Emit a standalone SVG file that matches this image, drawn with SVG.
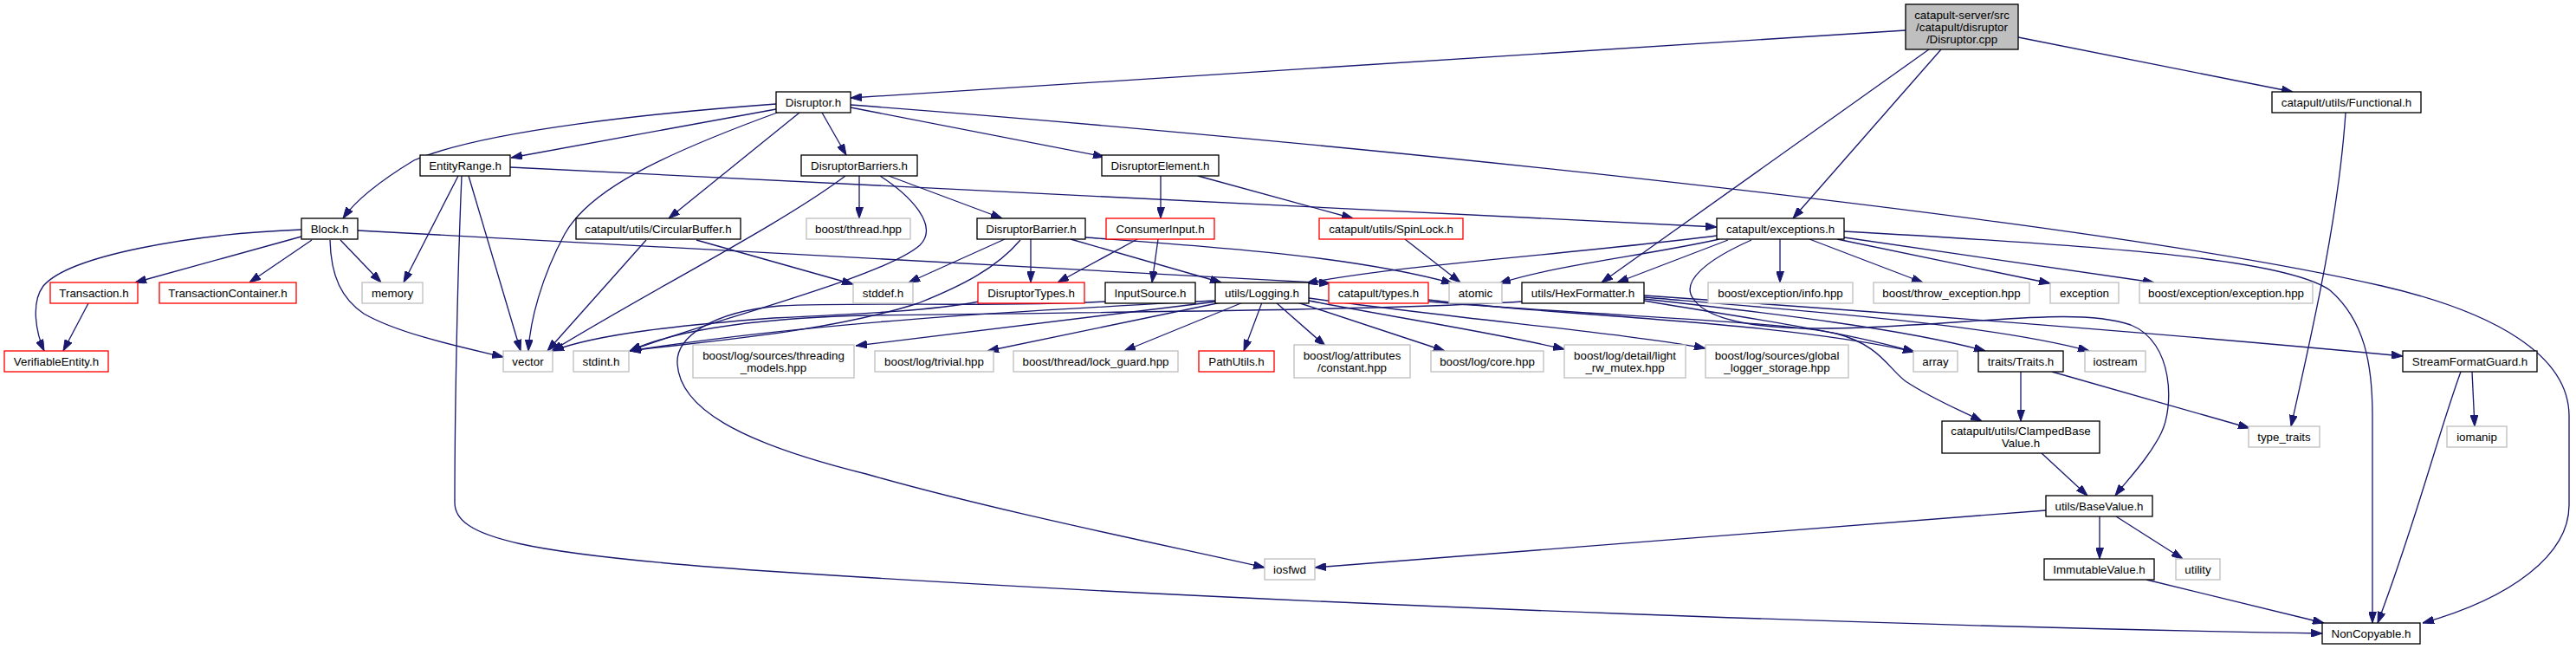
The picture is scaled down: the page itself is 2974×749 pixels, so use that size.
<svg xmlns="http://www.w3.org/2000/svg" width="2974" height="749" viewBox="0 0 2974 749">
<style>
.n rect{fill:#fff;stroke:#000;stroke-width:1.33}
.g rect{stroke:#bfbfbf}
.r rect{stroke:#ff0000}
.root rect{fill:#bfbfbf}
text{font-family:"Liberation Sans",Arial,Helvetica,sans-serif;font-size:13.33px;text-anchor:middle;fill:#000}
#edges path{fill:none;stroke:#191970;stroke-width:1.33;marker-end:url(#a)}
</style>
<defs>
<marker id="a" viewBox="0 0 13 9" refX="13" refY="4.5" markerWidth="13" markerHeight="9" markerUnits="userSpaceOnUse" orient="auto"><path d="M0,0 L13,4.5 L0,9 z" fill="#191970" stroke="#191970" stroke-width="1"/></marker>
</defs>
<rect width="2974" height="749" fill="#fff"/>
<g id="edges">
<path d="M2200,35 L982,113"/>
<path d="M2330,43 L2647,106"/>
<path d="M2241,57 L2070,252"/>
<path d="M2227,57 L1849,326"/>
<path d="M896,120 C760,130 560,150 478,185 C440,208 410,232 396,252"/>
<path d="M896,126 L590,182"/>
<path d="M900,129 C760,180 680,220 652,270 C625,320 612,370 610,405"/>
<path d="M923,130 L772,252"/>
<path d="M949,130 L977,179"/>
<path d="M982,124 L1275,181"/>
<path d="M982,121 C1500,160 2400,250 2750,330 C2880,360 2966,410 2966,480 L2966,583 C2966,640 2900,690 2797,719"/>
<path d="M529,203 L466,326"/>
<path d="M533,203 C528,320 525,480 525,580 C525,620 600,640 900,660 C1500,700 2300,725 2681,731"/>
<path d="M541,203 L601,405"/>
<path d="M589,193 L1982,262"/>
<path d="M348,265 C220,270 80,295 50,330 C35,350 42,385 51,405"/>
<path d="M348,273 L156,326"/>
<path d="M360,277 L288,326"/>
<path d="M393,277 L440,326"/>
<path d="M381,277 C382,320 395,345 420,362 C460,385 530,400 581,412"/>
<path d="M413,266 L1536,327"/>
<path d="M102,350 L73,405"/>
<path d="M746,277 L632,405"/>
<path d="M804,277 L985,328"/>
<path d="M992,203 L992,252"/>
<path d="M1026,203 L1157,252"/>
<path d="M976,203 C900,260 760,330 637,405"/>
<path d="M1016,203 C1050,225 1085,260 1062,283 C1020,320 820,370 727,405"/>
<path d="M1340,203 L1340,252"/>
<path d="M1383,203 L1562,252"/>
<path d="M1160,276 L1049,326"/>
<path d="M1190,276 L1190,326"/>
<path d="M1178,277 C1150,310 1110,330 1060,350 C950,385 800,395 727,405"/>
<path d="M1236,276 L1410,326"/>
<path d="M1253,274 C1400,285 1560,295 1677,327"/>
<path d="M1313,276 L1221,326"/>
<path d="M1337,276 L1330,326"/>
<path d="M1622,276 L1686,326"/>
<path d="M1982,272 C1800,295 1620,305 1508,327"/>
<path d="M1985,276 C1900,295 1800,305 1731,327"/>
<path d="M1995,277 L1867,326"/>
<path d="M2055,276 L2055,326"/>
<path d="M2089,276 L2220,326"/>
<path d="M2121,276 L2367,327"/>
<path d="M2129,274 L2487,326"/>
<path d="M2129,267 C2450,285 2640,300 2690,335 C2730,370 2739,420 2739,480 L2739,719"/>
<path d="M2022,277 C1970,300 1940,325 1955,345 C1975,375 2050,382 2150,378 C2300,372 2400,355 2460,375 C2510,395 2510,470 2495,500 C2480,530 2455,555 2442,572"/>
<path d="M1405,348 L988,399"/>
<path d="M1410,349 L1140,405"/>
<path d="M1435,349 L1298,405"/>
<path d="M1457,349 L1436,405"/>
<path d="M1473,349 L1530,399"/>
<path d="M1498,349 L1668,405"/>
<path d="M1511,347 C1620,368 1730,385 1806,403"/>
<path d="M1511,344 C1700,370 1880,385 1969,402"/>
<path d="M1403,347 C1200,358 950,370 727,405"/>
<path d="M1757,348 C1600,358 1300,360 1000,364 C850,368 770,385 727,405"/>
<path d="M1898,347 C2000,365 2120,380 2210,406"/>
<path d="M1898,345 C2050,362 2200,380 2292,405"/>
<path d="M1898,343 C2100,360 2300,375 2412,405"/>
<path d="M1898,341 C2200,362 2500,385 2774,411"/>
<path d="M1649,346 C1800,365 2050,370 2210,406"/>
<path d="M1649,348 C1850,365 2050,370 2120,385 C2170,398 2180,425 2200,440 C2230,460 2260,472 2288,486"/>
<path d="M1277,348 C1150,355 1000,348 900,353 C820,360 780,390 782,420 C785,470 850,510 1000,547 C1150,590 1350,630 1460,655"/>
<path d="M1130,348 C1080,358 1000,362 893,367 C790,375 690,385 638,405"/>
<path d="M2362,589 L1518,655"/>
<path d="M2424,596 L2424,645"/>
<path d="M2443,596 L2520,645"/>
<path d="M2357,523 L2410,572"/>
<path d="M2333,429 L2333,486"/>
<path d="M2369,429 L2597,494"/>
<path d="M2708,130 C2700,250 2670,380 2645,492"/>
<path d="M2854,429 L2857,492"/>
<path d="M2841,429 C2815,500 2790,600 2745,719"/>
<path d="M2478,669 L2683,719"/>
</g>
<g id="n_root" class="n root"><rect x="2200" y="5" width="130" height="52"/><text x="2265" y="22">catapult-server/src</text><text x="2265" y="36">/catapult/disruptor</text><text x="2265" y="50">/Disruptor.cpp</text></g>
<g id="n_disruptor" class="n"><rect x="896" y="106" width="86" height="24"/><text x="939" y="122.5">Disruptor.h</text></g>
<g id="n_functional" class="n"><rect x="2623" y="106" width="172" height="24"/><text x="2709" y="122.5">catapult/utils/Functional.h</text></g>
<g id="n_entityrange" class="n"><rect x="485" y="179" width="104" height="24"/><text x="537" y="195.5">EntityRange.h</text></g>
<g id="n_barriers" class="n"><rect x="925" y="179" width="134" height="24"/><text x="992" y="195.5">DisruptorBarriers.h</text></g>
<g id="n_element" class="n"><rect x="1272" y="179" width="135" height="24"/><text x="1339.5" y="195.5">DisruptorElement.h</text></g>
<g id="n_block" class="n"><rect x="348" y="252" width="65" height="24"/><text x="380.5" y="268.5">Block.h</text></g>
<g id="n_circular" class="n"><rect x="665" y="252" width="190" height="24"/><text x="760" y="268.5">catapult/utils/CircularBuffer.h</text></g>
<g id="n_thread" class="n g"><rect x="931" y="252" width="120" height="24"/><text x="991" y="268.5">boost/thread.hpp</text></g>
<g id="n_barrier" class="n"><rect x="1128" y="252" width="125" height="24"/><text x="1190.5" y="268.5">DisruptorBarrier.h</text></g>
<g id="n_consumer" class="n r"><rect x="1277" y="252" width="125" height="24"/><text x="1339.5" y="268.5">ConsumerInput.h</text></g>
<g id="n_spinlock" class="n r"><rect x="1523" y="252" width="166" height="24"/><text x="1606" y="268.5">catapult/utils/SpinLock.h</text></g>
<g id="n_exceptions" class="n"><rect x="1982" y="252" width="147" height="24"/><text x="2055.5" y="268.5">catapult/exceptions.h</text></g>
<g id="n_transaction" class="n r"><rect x="58" y="326" width="101" height="24"/><text x="108.5" y="342.5">Transaction.h</text></g>
<g id="n_txcontainer" class="n r"><rect x="184" y="326" width="158" height="24"/><text x="263" y="342.5">TransactionContainer.h</text></g>
<g id="n_memory" class="n g"><rect x="418" y="326" width="70" height="24"/><text x="453" y="342.5">memory</text></g>
<g id="n_stddef" class="n g"><rect x="985" y="326" width="69" height="24"/><text x="1019.5" y="342.5">stddef.h</text></g>
<g id="n_types_d" class="n r"><rect x="1129" y="326" width="123" height="24"/><text x="1190.5" y="342.5">DisruptorTypes.h</text></g>
<g id="n_inputsource" class="n"><rect x="1276" y="326" width="104" height="24"/><text x="1328" y="342.5">InputSource.h</text></g>
<g id="n_logging" class="n"><rect x="1403" y="326" width="108" height="24"/><text x="1457" y="342.5">utils/Logging.h</text></g>
<g id="n_types" class="n r"><rect x="1534" y="326" width="115" height="24"/><text x="1591.5" y="342.5">catapult/types.h</text></g>
<g id="n_atomic" class="n g"><rect x="1673" y="326" width="61" height="24"/><text x="1703.5" y="342.5">atomic</text></g>
<g id="n_hex" class="n"><rect x="1757" y="326" width="141" height="24"/><text x="1827.5" y="342.5">utils/HexFormatter.h</text></g>
<g id="n_info" class="n g"><rect x="1972" y="326" width="167" height="24"/><text x="2055.5" y="342.5">boost/exception/info.hpp</text></g>
<g id="n_throw" class="n g"><rect x="2163" y="326" width="180" height="24"/><text x="2253" y="342.5">boost/throw_exception.hpp</text></g>
<g id="n_exception" class="n g"><rect x="2367" y="326" width="79" height="24"/><text x="2406.5" y="342.5">exception</text></g>
<g id="n_bexception" class="n g"><rect x="2470" y="326" width="200" height="24"/><text x="2570" y="342.5">boost/exception/exception.hpp</text></g>
<g id="n_verifiable" class="n r"><rect x="5" y="405" width="120" height="24"/><text x="65" y="421.5">VerifiableEntity.h</text></g>
<g id="n_vector" class="n g"><rect x="581" y="405" width="57" height="24"/><text x="609.5" y="421.5">vector</text></g>
<g id="n_stdint" class="n g"><rect x="662" y="405" width="64" height="24"/><text x="694" y="421.5">stdint.h</text></g>
<g id="n_threading" class="n g"><rect x="800" y="398" width="186" height="38"/><text x="893" y="414.5">boost/log/sources/threading</text><text x="893" y="429">_models.hpp</text></g>
<g id="n_trivial" class="n g"><rect x="1010" y="405" width="137" height="24"/><text x="1078.5" y="421.5">boost/log/trivial.hpp</text></g>
<g id="n_lockguard" class="n g"><rect x="1170" y="405" width="190" height="24"/><text x="1265" y="421.5">boost/thread/lock_guard.hpp</text></g>
<g id="n_pathutils" class="n r"><rect x="1384" y="405" width="87" height="24"/><text x="1427.5" y="421.5">PathUtils.h</text></g>
<g id="n_constant" class="n g"><rect x="1494" y="398" width="134" height="38"/><text x="1561" y="414.5">boost/log/attributes</text><text x="1561" y="429">/constant.hpp</text></g>
<g id="n_core" class="n g"><rect x="1652" y="405" width="130" height="24"/><text x="1717" y="421.5">boost/log/core.hpp</text></g>
<g id="n_rwmutex" class="n g"><rect x="1806" y="398" width="140" height="38"/><text x="1876" y="414.5">boost/log/detail/light</text><text x="1876" y="429">_rw_mutex.hpp</text></g>
<g id="n_global" class="n g"><rect x="1969" y="398" width="165" height="38"/><text x="2051.5" y="414.5">boost/log/sources/global</text><text x="2051.5" y="429">_logger_storage.hpp</text></g>
<g id="n_array" class="n g"><rect x="2209" y="405" width="51" height="24"/><text x="2234.5" y="421.5">array</text></g>
<g id="n_traits" class="n"><rect x="2284" y="405" width="98" height="24"/><text x="2333" y="421.5">traits/Traits.h</text></g>
<g id="n_iostream" class="n g"><rect x="2407" y="405" width="70" height="24"/><text x="2442" y="421.5">iostream</text></g>
<g id="n_sfg" class="n"><rect x="2774" y="405" width="155" height="24"/><text x="2851.5" y="421.5">StreamFormatGuard.h</text></g>
<g id="n_clamped" class="n"><rect x="2242" y="486" width="182" height="37"/><text x="2333" y="501.5">catapult/utils/ClampedBase</text><text x="2333" y="515.5">Value.h</text></g>
<g id="n_typetraits" class="n g"><rect x="2596" y="492" width="82" height="24"/><text x="2637" y="508.5">type_traits</text></g>
<g id="n_iomanip" class="n g"><rect x="2825" y="492" width="69" height="24"/><text x="2859.5" y="508.5">iomanip</text></g>
<g id="n_basevalue" class="n"><rect x="2362" y="572" width="123" height="24"/><text x="2423.5" y="588.5">utils/BaseValue.h</text></g>
<g id="n_iosfwd" class="n g"><rect x="1460" y="645" width="58" height="24"/><text x="1489" y="661.5">iosfwd</text></g>
<g id="n_immutable" class="n"><rect x="2360" y="645" width="127" height="24"/><text x="2423.5" y="661.5">ImmutableValue.h</text></g>
<g id="n_utility" class="n g"><rect x="2512" y="645" width="51" height="24"/><text x="2537.5" y="661.5">utility</text></g>
<g id="n_noncopyable" class="n"><rect x="2681" y="719" width="113" height="24"/><text x="2737.5" y="735.5">NonCopyable.h</text></g>
</svg>
